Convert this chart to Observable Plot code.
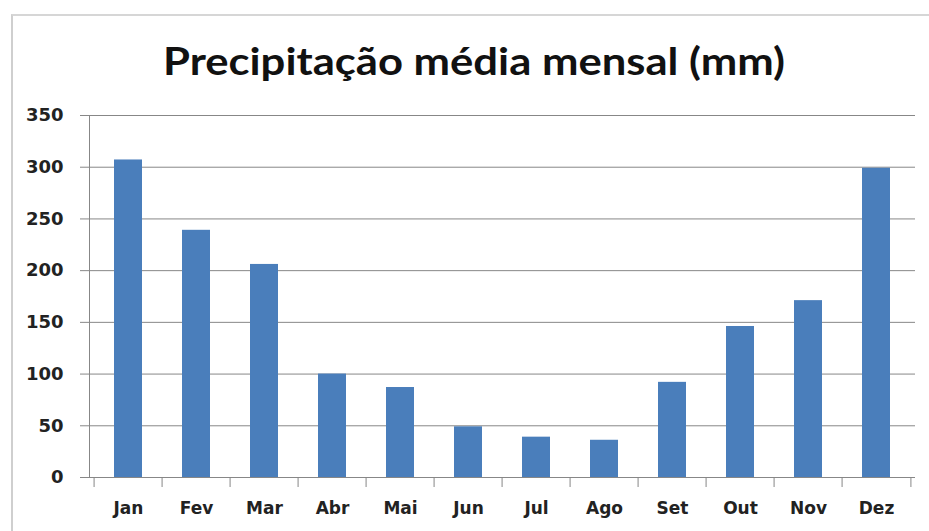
<!DOCTYPE html>
<html>
<head>
<meta charset="utf-8">
<script src="https://cdn.jsdelivr.net/npm/d3@7"></script>
<script src="https://cdn.jsdelivr.net/npm/@observablehq/plot@0.6"></script>
<style>
  html, body { margin: 0; padding: 0; background: #fff; }
  #wrap { position: relative; width: 929px; height: 531px; overflow: hidden; background: #fff; }
  #border { position: absolute; left: 11px; top: 14px; width: 1000px; height: 600px;
            border-left: 2px solid #cfcfcf; border-top: 2px solid #d6d6d6; pointer-events: none; z-index: 2; }
  #title { display: block; }
</style>
</head>
<body>
<div id="wrap">
  <svg id="title" width="929" height="100">
    <text x="163" y="75" textLength="622" lengthAdjust="spacingAndGlyphs"
          font-family="Lato, sans-serif" font-weight="700" font-size="38" fill="#111">Precipitação média mensal (mm)</text>
  </svg>
  <div id="chart"></div>
  <div id="border"></div>
</div>
<script>
const months = ["Jan","Fev","Mar","Abr","Mai","Jun","Jul","Ago","Set","Out","Nov","Dez"];
const precipitation = [307, 239, 206, 100, 87, 49, 39, 36, 92, 146, 171, 299];
const yTicks = [0, 50, 100, 150, 200, 250, 300, 350];

const data = months.map((m, i) => ({month: m, value: precipitation[i]}));

const W = 929, H = 431, mL = 89, mR = 14, mT = 15, mB = 54;
const step = (W - mL - mR) / months.length;
const gray = "#878787";

const chart = Plot.plot({
  width: W, height: H,
  marginTop: mT, marginBottom: mB, marginLeft: mL, marginRight: mR,
  style: {background: "transparent", fontFamily: "'DejaVu Sans', sans-serif", color: "#222"},
  x: {domain: months, paddingInner: 0.59, paddingOuter: 0.295, label: null, axis: null},
  y: {domain: [0, 350], label: null, axis: null},
  marks: [
    Plot.gridY(yTicks, {stroke: gray, strokeOpacity: 1}),
    Plot.frame({anchor: "left", stroke: gray}),
    Plot.barY(data, {x: "month", y: "value", fill: "#4a7ebb"}),
    Plot.axisY(yTicks, {tickSize: 9, tickPadding: 17, stroke: gray, fill: "#222",
      fontSize: 18, fontWeight: "bold", label: null}),
    Plot.axisX(months, {tickSize: 10, dx: -step / 2, tickFormat: () => "", stroke: gray, label: null}),
    Plot.axisX(["Dez"], {tickSize: 10, dx: step / 2, tickFormat: () => "", stroke: gray, label: null}),
    Plot.axisX(months, {tickSize: 0, tickPadding: 24, fill: "#222", fontSize: 17, fontWeight: "bold", label: null})
  ]
});
document.getElementById("chart").appendChild(chart);
</script>
</body>
</html>
